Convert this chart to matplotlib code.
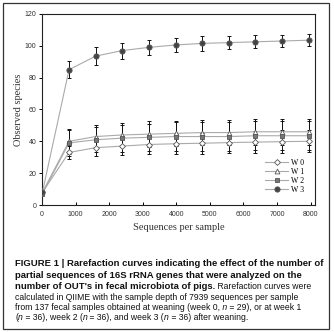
import numpy as np
import matplotlib.pyplot as plt
from matplotlib.patches import Rectangle

# sequences per sample (QIIME rarefaction depths)
depth = [10, 803, 1596, 2389, 3182, 3975, 4768, 5561, 6354, 7147, 7939]

w0 = [8, 33, 36, 37, 38, 38.5, 38.8, 39.2, 39.5, 39.8, 40]
w0_err = [1, 4, 5, 5.5, 6, 6.3, 6.5, 6.7, 7, 7, 7]
w1 = [8, 40, 43, 44, 44.5, 45, 45.5, 45.5, 46, 46, 46]
w1_err = [1, 8, 7.5, 7.5, 8, 8, 8, 8, 8, 8, 8]
w2 = [7, 39, 41, 42, 42.5, 43, 43, 43, 43.5, 43.5, 43.5]
w2_err = [1, 8, 8, 8.5, 8.5, 9, 9, 9, 9, 9, 9]
w3 = [8, 85, 93.5, 97, 99, 100.5, 101.5, 102, 102.5, 103, 103.5]
w3_err = [1, 5.5, 5.5, 5, 4.8, 4.5, 4.5, 4.3, 4.2, 4, 3.8]

labels = ['W 0', 'W 1', 'W 2', 'W 3']

fig = plt.figure(figsize=(3.34, 3.32), dpi=100)
ax = fig.add_axes([0.126, 0.3825, 0.817, 0.5755])

styles = [
    (w0, w0_err, 'D', 'white', 3.0),
    (w1, w1_err, '^', 'white', 3.5),
    (w2, w2_err, 's', '#777777', 3.2),
    (w3, w3_err, 'o', '#444444', 3.8),
]
for (vals, err, m, fc, ms), lab in zip(styles, labels):
    ax.errorbar(depth, vals, yerr=err, fmt='none', ecolor='#111111',
                elinewidth=0.7, capsize=1.6, capthick=0.7, zorder=2)
    ax.plot(depth, vals, color='#aaaaaa', lw=0.8, marker=m, ms=ms,
            mfc=fc, mec='#555555', mew=0.6, label=lab, zorder=3)

ax.set_xlim(0, 8130)
ax.set_ylim(0, 120)
ax.set_xticks(range(0, 8001, 1000))
ax.set_yticks(range(0, 121, 20))
ax.tick_params(axis='x', direction='in', length=2.5, width=0.7, pad=4,
               labelsize=5, labelcolor='#333333')
ax.tick_params(axis='y', direction='out', length=2, width=0.7, pad=2,
               labelsize=5, labelcolor='#333333')
for lbl in ax.get_xticklabels() + ax.get_yticklabels():
    lbl.set_family('Liberation Sans')
for s in ax.spines.values():
    s.set_linewidth(0.8)
    s.set_color('#222222')

ax.set_xlabel('Sequences per sample', family='Liberation Serif', fontsize=7.5,
              color='#333333', labelpad=4)
ax.set_ylabel('Observed species', family='Liberation Serif', fontsize=7.5,
              color='#333333', labelpad=1.5)

leg = ax.legend(loc='lower right', frameon=False, prop={'family': 'Liberation Serif', 'size': 5.6},
                handlelength=2.9, labelspacing=0.15, handletextpad=0.4,
                borderaxespad=1.0)

# outer frame
fig.add_artist(Rectangle((3 / 334, 3 / 332), 326 / 334, 326 / 332, transform=fig.transFigure,
                         fill=False, lw=0.9, ec='#333333'))

# caption
fb = 6.8
fn = 6.2
x0 = 15 / 334
def ypos(py):
    return 1 - py / 332

def line(py, parts):
    # parts: list of (text, weight, style, size); chained left to right
    prev = None
    for txt, w, st, sz in parts:
        kw = dict(family='Liberation Sans', color='#111111', weight=w, style=st, fontsize=sz)
        if prev is None:
            prev = fig.text(x0, ypos(py), txt, va='baseline', **kw)
        else:
            prev = ax.annotate(txt, xy=(1, 0), xycoords=prev, va='bottom', ha='left', **kw)

B = 'bold'
N = 'normal'
line(266, [('FIGURE 1 | Rarefaction curves indicating the effect of the number of', B, N, fb)])
line(277.5, [('partial sequences of 16S rRNA genes that were analyzed on the', B, N, fb)])
line(289, [("number of OUT's in fecal microbiota of pigs.", B, N, fb),
           (' Rarefaction curves were', N, N, fn)])
line(299.5, [('calculated in QIIME with the sample depth of 7939 sequences per sample', N, N, fn)])
line(310, [('from 137 fecal samples obtained at weaning (week 0,', N, N, fn),
           (' n', N, 'italic', fn), (' = 29), or at week 1', N, N, fn)])
line(320.5, [('(', N, N, fn), ('n', N, 'italic', fn), (' = 36), week 2 (', N, N, fn),
             ('n', N, 'italic', fn), (' = 36), and week 3 (', N, N, fn),
             ('n', N, 'italic', fn), (' = 36) after weaning.', N, N, fn)])

fig.savefig('out.png', dpi=100)
